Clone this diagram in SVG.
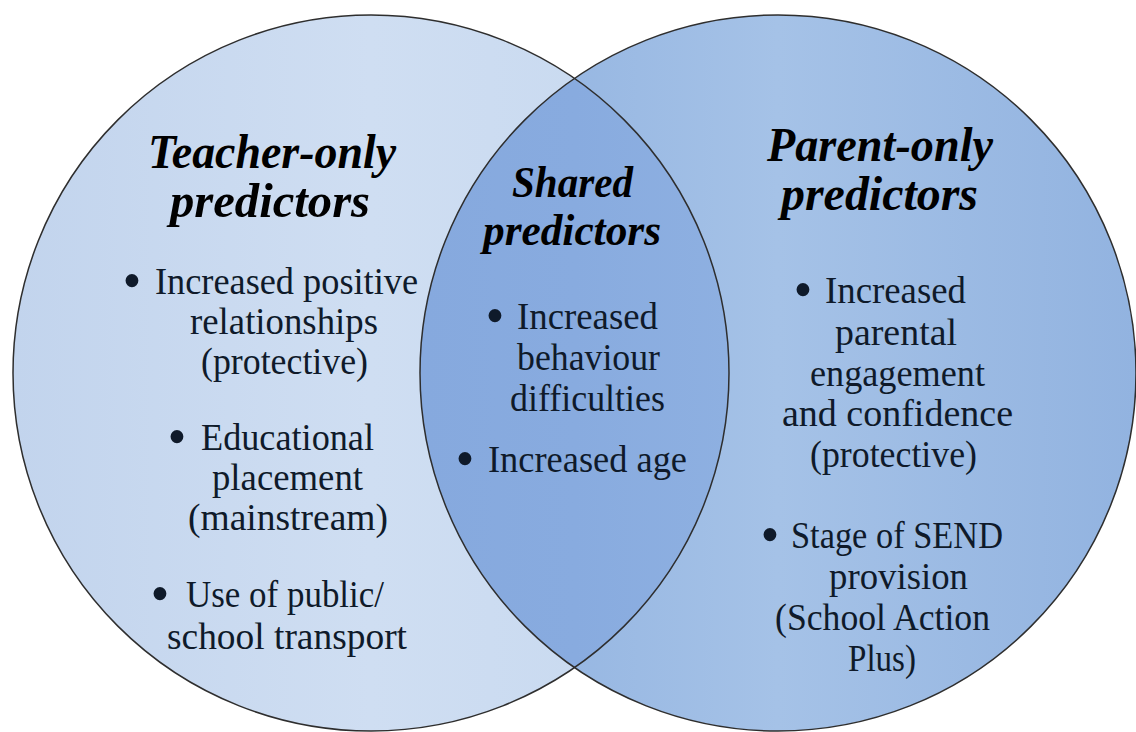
<svg xmlns="http://www.w3.org/2000/svg" width="1136" height="732" viewBox="0 0 1136 732">
<defs>
  <linearGradient id="gL" gradientUnits="userSpaceOnUse" x1="13" y1="0" x2="729" y2="0">
    <stop offset="0" stop-color="#c2d4ed"/>
    <stop offset="0.5" stop-color="#cfdef2"/>
    <stop offset="1" stop-color="#c6d8ef"/>
  </linearGradient>
  <linearGradient id="gR" gradientUnits="userSpaceOnUse" x1="420" y1="0" x2="1136" y2="0">
    <stop offset="0" stop-color="#8eb0df"/>
    <stop offset="0.5" stop-color="#a5c2e7"/>
    <stop offset="1" stop-color="#92b3e0"/>
  </linearGradient>
  <linearGradient id="gS" gradientUnits="userSpaceOnUse" x1="420" y1="0" x2="730" y2="0">
    <stop offset="0" stop-color="#86a9de"/>
    <stop offset="0.5" stop-color="#88abdf"/>
    <stop offset="1" stop-color="#8eb0e1"/>
  </linearGradient>
  <clipPath id="clipL"><circle cx="371" cy="373" r="358"/></clipPath>
</defs>
<style>
  .t{font-family:"Liberation Serif","DejaVu Serif",serif;font-size:38px;fill:#0f1a2a}
  .h{font-family:"Liberation Serif","DejaVu Serif",serif;font-size:48px;font-weight:bold;font-style:italic;fill:#000}
  .hs{font-size:44px}
  .b{text-anchor:middle;font-size:54px}
  .ring{fill:none;stroke:#2e2e2e;stroke-width:1.5}
</style>
<g id="shapes">
  <circle cx="371" cy="373" r="358" fill="url(#gL)"/>
  <circle cx="778" cy="373" r="358" fill="url(#gR)"/>
  <circle cx="778" cy="373" r="358" fill="url(#gS)" clip-path="url(#clipL)"/>
  <circle class="ring" cx="371" cy="373" r="358"/>
  <circle class="ring" cx="778" cy="373" r="358"/>
</g>
<g id="connectors"></g>
<g id="teacher">
  <text class="h" x="148" y="168" textLength="248" lengthAdjust="spacingAndGlyphs">Teacher-only</text>
  <text class="h" x="170" y="217" textLength="200" lengthAdjust="spacingAndGlyphs">predictors</text>
  <text class="t b" x="132" y="299">•</text>
  <text class="t" x="155" y="294" textLength="263" lengthAdjust="spacingAndGlyphs">Increased positive</text>
  <text class="t" x="190" y="334" textLength="188" lengthAdjust="spacingAndGlyphs">relationships</text>
  <text class="t" x="201" y="374" textLength="167" lengthAdjust="spacingAndGlyphs">(protective)</text>
  <text class="t b" x="177" y="455">•</text>
  <text class="t" x="201" y="450" textLength="173" lengthAdjust="spacingAndGlyphs">Educational</text>
  <text class="t" x="212" y="490" textLength="151" lengthAdjust="spacingAndGlyphs">placement</text>
  <text class="t" x="188" y="530" textLength="200" lengthAdjust="spacingAndGlyphs">(mainstream)</text>
  <text class="t b" x="160" y="612">•</text>
  <text class="t" x="186" y="607" textLength="198" lengthAdjust="spacingAndGlyphs">Use of public/</text>
  <text class="t" x="167" y="649" textLength="240" lengthAdjust="spacingAndGlyphs">school transport</text>
</g>
<g id="shared">
  <text class="h hs" x="512" y="197" textLength="121" lengthAdjust="spacingAndGlyphs">Shared</text>
  <text class="h hs" x="483" y="245" textLength="178" lengthAdjust="spacingAndGlyphs">predictors</text>
  <text class="t b" x="495" y="334">•</text>
  <text class="t" x="517" y="329" textLength="141" lengthAdjust="spacingAndGlyphs">Increased</text>
  <text class="t" x="517" y="370" textLength="143" lengthAdjust="spacingAndGlyphs">behaviour</text>
  <text class="t" x="510" y="411" textLength="155" lengthAdjust="spacingAndGlyphs">difficulties</text>
  <text class="t b" x="465" y="477">•</text>
  <text class="t" x="488" y="472" textLength="199" lengthAdjust="spacingAndGlyphs">Increased age</text>
</g>
<g id="parent">
  <text class="h" x="767" y="161" textLength="226" lengthAdjust="spacingAndGlyphs">Parent-only</text>
  <text class="h" x="781" y="210" textLength="197" lengthAdjust="spacingAndGlyphs">predictors</text>
  <text class="t b" x="803" y="308">•</text>
  <text class="t" x="825" y="303" textLength="141" lengthAdjust="spacingAndGlyphs">Increased</text>
  <text class="t" x="835" y="345" textLength="122" lengthAdjust="spacingAndGlyphs">parental</text>
  <text class="t" x="810" y="386" textLength="175" lengthAdjust="spacingAndGlyphs">engagement</text>
  <text class="t" x="782" y="426" textLength="231" lengthAdjust="spacingAndGlyphs">and confidence</text>
  <text class="t" x="810" y="467" textLength="167" lengthAdjust="spacingAndGlyphs">(protective)</text>
  <text class="t b" x="770" y="553">•</text>
  <text class="t" x="791" y="548" textLength="212" lengthAdjust="spacingAndGlyphs">Stage of SEND</text>
  <text class="t" x="829" y="589" textLength="139" lengthAdjust="spacingAndGlyphs">provision</text>
  <text class="t" x="775" y="630" textLength="215" lengthAdjust="spacingAndGlyphs">(School Action</text>
  <text class="t" x="848" y="671" textLength="68" lengthAdjust="spacingAndGlyphs">Plus)</text>
</g>
</svg>
